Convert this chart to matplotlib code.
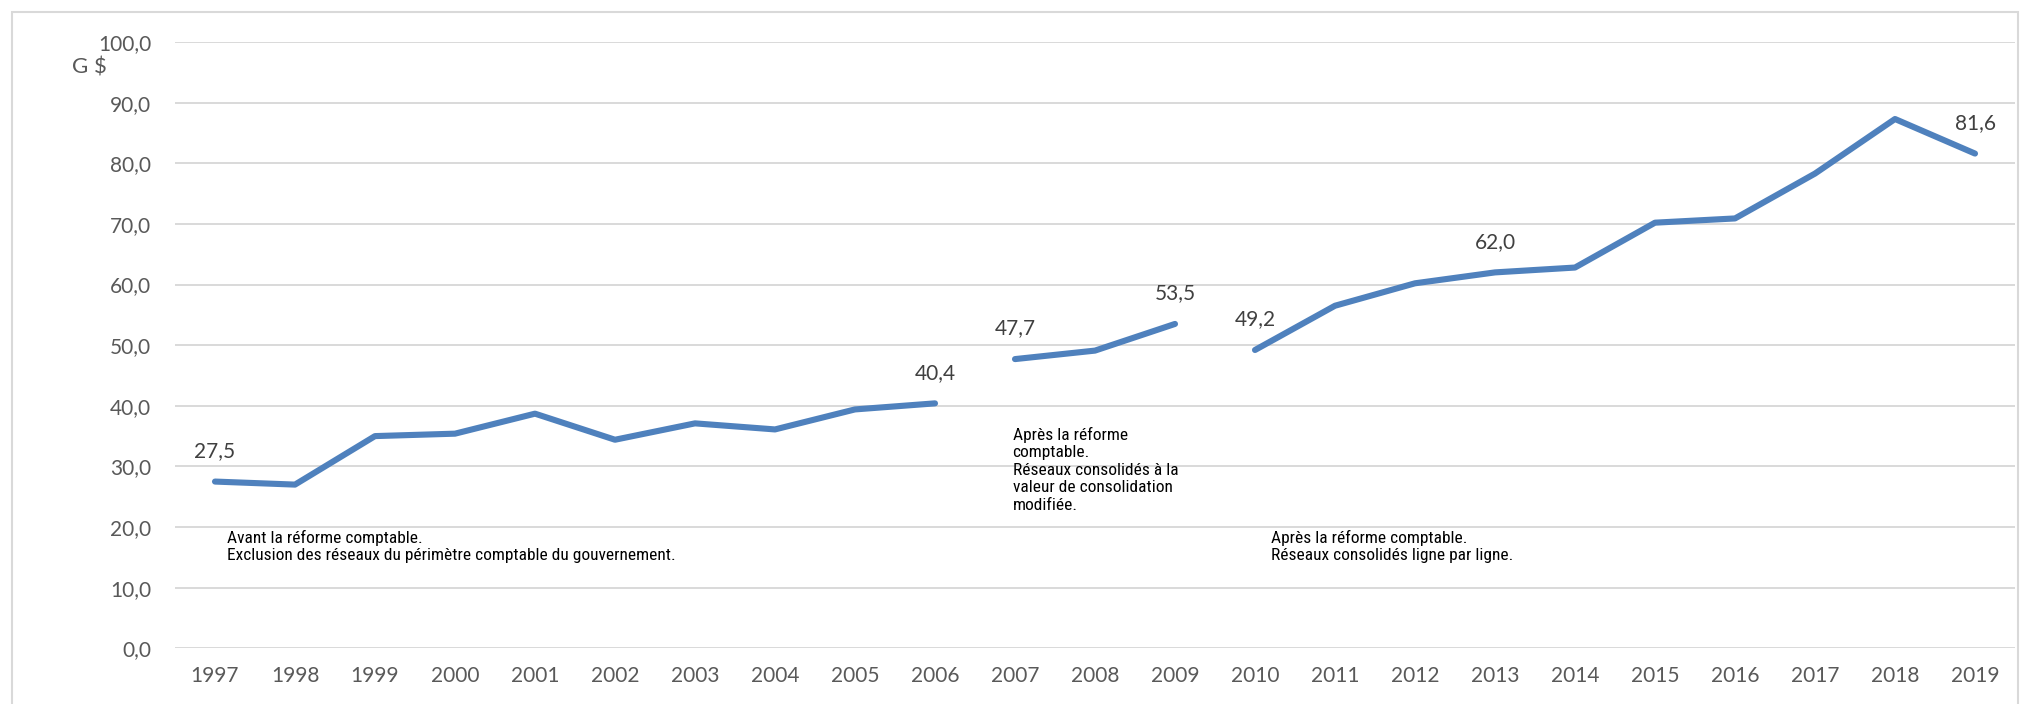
import numpy as np
import matplotlib
matplotlib.use("Agg")
import matplotlib.pyplot as plt
from matplotlib import font_manager
from matplotlib.patches import Rectangle

# Data (G $), three accounting periods drawn as separate segments
years = [str(y) for y in range(1997, 2020)]
vals_avant = [27.5, 27.0, 35.0, 35.4, 38.7, 34.4, 37.1, 36.1, 39.4, 40.4]   # 1997-2006
vals_modifiee = [47.7, 49.1, 53.5]                                          # 2007-2009
vals_ligne = [49.2, 56.5, 60.2, 62.0, 62.8, 70.2, 70.9, 78.3, 87.3, 81.6]   # 2010-2019

labelled = {"1997": 27.5, "2006": 40.4, "2007": 47.7, "2009": 53.5,
            "2010": 49.2, "2013": 62.0, "2019": 81.6}

notes = [
    (0.15, 19.5, "Avant la réforme comptable.\nExclusion des réseaux du périmètre comptable du gouvernement."),
    (9.97, 36.5, "Après la réforme\ncomptable.\nRéseaux consolidés à la\nvaleur de consolidation\nmodifiée."),
    (13.2, 19.5, "Après la réforme comptable.\nRéseaux consolidés ligne par ligne."),
]


def pick_narrow():
    # first condensed face that is really installed, else a narrow-ish sans
    for name in ['Liberation Sans Narrow', 'DejaVu Sans Condensed',
                 'Roboto Condensed', 'Open Sans Condensed', 'Noto Sans Display']:
        try:
            font_manager.findfont(name, fallback_to_default=False)
            return name, 12.5
        except Exception:
            pass
    return 'Roboto', 11.5


narrow, narrow_size = pick_narrow()

plt.rcParams['font.family'] = ['Lato', 'DejaVu Sans']
blue = '#4F81BD'
grey_txt = '#595959'

fig = plt.figure(figsize=(20.21, 7.04), dpi=100)
ax = fig.add_axes([175 / 2021, 1 - 648.3 / 704, 1840 / 2021, (648.3 - 42) / 704])

x = np.arange(len(years))
segments = [(0, vals_avant), (10, vals_modifiee), (13, vals_ligne)]
for start, vals in segments:
    ax.plot(x[start:start + len(vals)], vals, color=blue, lw=4.4,
            solid_capstyle='round', solid_joinstyle='round', zorder=3)

for yr, v in labelled.items():
    ax.annotate(f"{v:.1f}".replace('.', ','), (years.index(yr), v),
                xytext=(0, 22), textcoords='offset points',
                ha='center', va='center', fontsize=15, color='#404040')

for nx, ny, txt in notes:
    t = ax.text(nx, ny, txt, ha='left', va='top', fontsize=narrow_size, color='black',
                linespacing=1.2, family=[narrow, 'DejaVu Sans'])
    if narrow == 'Roboto':
        t.set_fontstretch('condensed')

ax.set_xlim(-0.5, len(years) - 0.5)
ax.set_ylim(0, 100)
ax.set_xticks(x)
ax.set_xticklabels(years)
ax.set_yticks(np.arange(0, 101, 10))
ax.set_yticklabels([f"{v:.1f}".replace('.', ',') for v in range(0, 101, 10)])
ax.tick_params(axis='both', length=0, labelsize=15, colors=grey_txt)
ax.tick_params(axis='y', pad=17)
ax.tick_params(axis='x', pad=13)
ax.grid(axis='y', color='#D9D9D9', lw=1.4)
ax.set_axisbelow(True)
for s in ax.spines.values():
    s.set_visible(False)

fig.text(72 / 2021, 1 - 68 / 704, "G $", fontsize=16, color=grey_txt,
         ha='left', va='center')

# chart area frame
fig.patches.append(Rectangle((12 / 2021, -0.1), 2006 / 2021, 1.1 - 12 / 704,
                             transform=fig.transFigure, fill=False,
                             edgecolor='#D9D9D9', lw=1.5))

fig.savefig('out.png', dpi=100, facecolor='white')
